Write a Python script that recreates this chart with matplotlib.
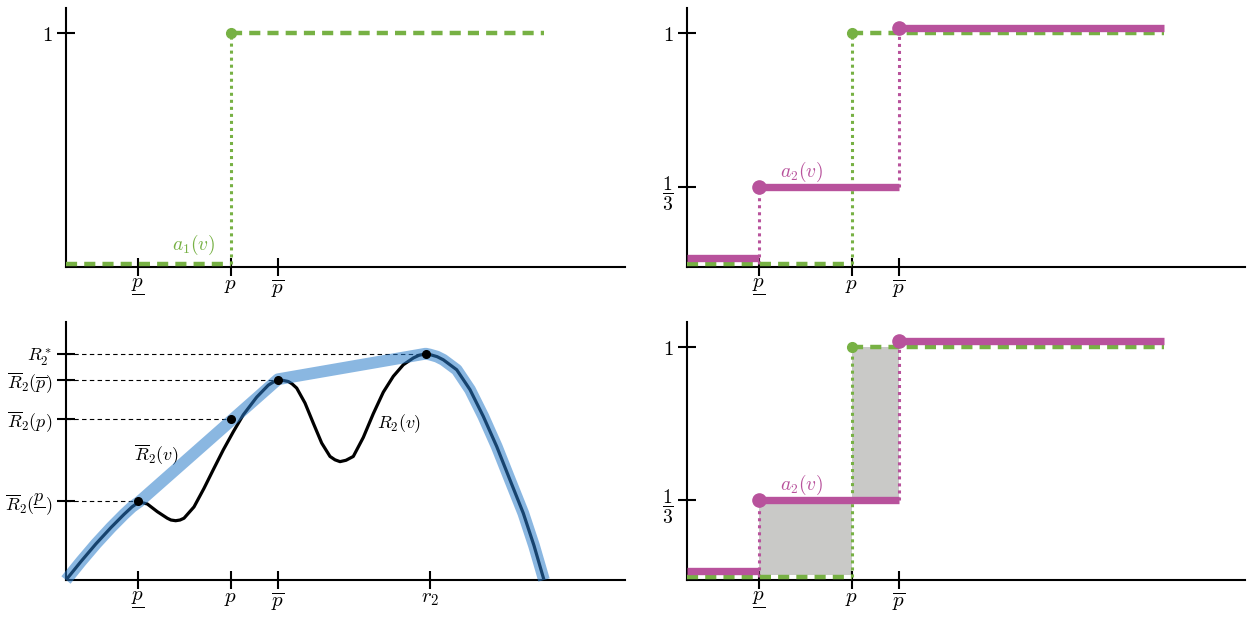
import numpy as np
import matplotlib
matplotlib.use("Agg")
import matplotlib.pyplot as plt
from matplotlib.transforms import ScaledTranslation

plt.rcParams['mathtext.fontset'] = 'cm'
plt.rcParams['axes.formatter.use_mathtext'] = True

green = "#77b144"
magenta = "#b8529c"
blue = "#2a7cca"
grey = "#c9c9c7"

# prices on the value axis
p_low = 0.72
p_mid = 1.65
p_high = 2.12
r2 = 3.64
v_end = 4.78

# a_1(v): green step, a_2(v): magenta step
a1_x = [0.0, p_mid, v_end]
a1_y = [0.0, 1.0, 1.0]
a2_x = [0.0, p_low, p_high, v_end]
a2_y = [0.025, 1 / 3, 1.025, 1.025]

# revenue curve R_2(v)
rev_v = [0.0, 0.15, 0.30, 0.45, 0.58, 0.66, 0.73, 0.813, 0.913, 1.013, 1.05, 1.097,
         1.14, 1.18, 1.28, 1.38, 1.47, 1.573, 1.673, 1.773, 1.907, 2.023, 2.07, 2.123,
         2.17, 2.223, 2.26, 2.307, 2.39, 2.473, 2.557, 2.64, 2.69, 2.74, 2.80, 2.873,
         2.973, 3.073, 3.173, 3.273, 3.373, 3.473, 3.53, 3.597, 3.64, 3.71, 3.773, 3.907,
         4.04, 4.173, 4.307, 4.44, 4.573, 4.68, 4.78]
rev_R = [0.0, 0.082, 0.160, 0.232, 0.290, 0.323, 0.345, 0.336, 0.302, 0.273, 0.265, 0.262,
         0.265, 0.273, 0.323, 0.405, 0.485, 0.575, 0.655, 0.730, 0.808, 0.861, 0.874, 0.882,
         0.882, 0.877, 0.867, 0.848, 0.782, 0.693, 0.605, 0.546, 0.531, 0.523, 0.529, 0.546,
         0.630, 0.735, 0.830, 0.900, 0.951, 0.981, 0.993, 0.999, 0.996, 0.987, 0.973, 0.929,
         0.841, 0.723, 0.590, 0.442, 0.295, 0.152, 0.0]

# ironed revenue curve, straight pieces between the touching points
iron_v = [0.0, 0.15, 0.30, 0.45, 0.58, 0.66, 0.73, p_high, 3.597, 3.64, 3.71, 3.773,
          3.907, 4.04, 4.173, 4.307, 4.44, 4.573, 4.68, 4.78]
iron_R = [0.0, 0.082, 0.160, 0.232, 0.290, 0.323, 0.345, 0.887, 1.0, 0.996, 0.987, 0.973,
          0.929, 0.841, 0.723, 0.590, 0.442, 0.295, 0.152, 0.0]

pts_v = [p_low, p_mid, p_high, 3.597]
pts_R = [0.35, 0.712, 0.885, 1.0]


# mathtext has no \underline: a fraction with an empty denominator draws the bar,
# the other tick labels get the same box (rule of width 0) so they line up
def stack(s, rule=0):
    return r'\genfrac{}{}{%s}{0}{%s}{\,}' % (rule, s)


R_labels = [r'$\overline{R}_2(' + stack('p', 0.8) + ')$', r'$\overline{R}_2(p)$',
            r'$\overline{R}_2(\overline{p})$', r'$R_2^*$']
price_labels = ['$' + stack('p', 0.8) + '$', '$' + stack('p') + '$',
                '$' + stack(r'\overline{p}') + '$']
r2_label = '$' + stack('r_2') + '$'

fig = plt.figure(figsize=(12.48, 6.18), dpi=100)
W, H = 1248.0, 618.0


def make_axes(x0, x1, y0, y1):
    ax = fig.add_axes([x0 / W, 1 - y1 / H, (x1 - x0) / W, (y1 - y0) / H])
    for s in ["top", "right"]:
        ax.spines[s].set_visible(False)
    for s in ["left", "bottom"]:
        ax.spines[s].set_linewidth(1.5)
    ax.tick_params(direction="inout", length=13, width=1.5, labelsize=15, pad=3)
    ax.tick_params(axis="x", pad=4)
    ax.set_xlim(0, 5.59)
    return ax


ax1 = make_axes(66, 625, 8, 267)
ax2 = make_axes(687, 1245, 8, 267)
ax3 = make_axes(66, 625, 322, 580)
ax4 = make_axes(687, 1245, 322, 580)


def draw_a1(ax):
    ax.plot(a1_x[:2], [a1_y[0]] * 2, color=green, lw=3.2, dashes=(2.5, 1.6), zorder=4)
    ax.plot([a1_x[1]] * 2, [a1_y[0], a1_y[1]], color=green, lw=2.2, ls=(0, (1, 1.3)), zorder=3)
    ax.plot(a1_x[1:], a1_y[1:], color=green, lw=3.2, dashes=(2.5, 1.6), zorder=4)
    ax.plot(a1_x[1], a1_y[1], "o", color=green, ms=7, zorder=6)


def draw_a2(ax):
    ax.plot(a2_x[:2], [a2_y[0]] * 2, color=magenta, lw=5.3, solid_capstyle="butt", zorder=4)
    ax.plot([a2_x[1]] * 2, [0, a2_y[1]], color=magenta, lw=2.2, ls=(0, (1, 1.3)), zorder=3)
    ax.plot(a2_x[1:3], [a2_y[1]] * 2, color=magenta, lw=5.3, solid_capstyle="butt", zorder=4)
    ax.plot([a2_x[2]] * 2, [a2_y[1], a2_y[2]], color=magenta, lw=2.2, ls=(0, (1, 1.3)), zorder=3)
    ax.plot(a2_x[2:], a2_y[2:], color=magenta, lw=5.3, solid_capstyle="butt", zorder=4)
    ax.plot(a2_x[1:3], a2_y[1:3], "o", color=magenta, ms=9.5, lw=0, zorder=6)


## top left: a_1 alone
draw_a1(ax1)
ax1.set_ylim(-0.015, 1.11)
ax1.set_yticks([1])
ax1.set_yticklabels([r'$1$'])
ax1.set_xticks([p_low, p_mid, p_high])
ax1.set_xticklabels(price_labels)
ax1.text(1.275, 0.08, r'$a_1(v)$', color=green, fontsize=14, ha="center", va="center")

## top right: a_1 and a_2
draw_a1(ax2)
draw_a2(ax2)
ax2.set_ylim(-0.015, 1.11)
ax2.set_yticks([1 / 3, 1])
ax2.set_yticklabels([r'$\dfrac{1}{3}$', r'$1$'])
ax2.set_xticks([p_low, p_mid, p_high])
ax2.set_xticklabels(price_labels)
ax2.text(1.145, 0.40, r'$a_2(v)$', color=magenta, fontsize=14, ha="center", va="center")

## bottom right: same with the shaded gap
draw_a1(ax4)
draw_a2(ax4)
ax4.fill_between([p_low, p_mid, p_high], [0.005, 1 / 3, 1 / 3], [1 / 3, 1.0, 1.0],
                 step="post", color=grey, lw=0, zorder=1)
ax4.set_ylim(-0.015, 1.11)
ax4.set_yticks([1 / 3, 1])
ax4.set_yticklabels([r'$\dfrac{1}{3}$', r'$1$'])
ax4.set_xticks([p_low, p_mid, p_high])
ax4.set_xticklabels(price_labels)
ax4.text(1.145, 0.40, r'$a_2(v)$', color=magenta, fontsize=14, ha="center", va="center")

for ax in [ax2, ax4]:
    ax.get_yticklabels()[0].set_fontsize(14)

## bottom left: revenue curve and its ironed version
ax3.set_ylim(0, 1.14)
ax3.plot(rev_v, rev_R, color="black", lw=2.3, zorder=3, solid_joinstyle="round")
ax3.plot(iron_v, iron_R, color=blue, alpha=0.55, lw=8.5, solid_capstyle="butt",
         solid_joinstyle="round", zorder=4, clip_on=False)
ax3.plot(pts_v, pts_R, "o", color="black", ms=5.5, zorder=6)
for v, R in zip(pts_v, pts_R):
    ax3.plot([0, v], [R, R], color="black", lw=0.8, dashes=(4, 3), zorder=2)
ax3.set_yticks(pts_R)
ax3.set_yticklabels(R_labels, fontsize=13)
ax3.set_xticks([p_low, p_mid, p_high, r2])
ax3.set_xticklabels(price_labels + [r2_label])
ax3.text(3.11, 0.69, r'$R_2(v)$', fontsize=13, ha="left", va="center")
ax3.text(0.68, 0.55, r'$\overline{R}_2(v)$', fontsize=13, ha="left", va="center")

# p-bar: push it down a little so its p sits level with the other p's
down = ScaledTranslation(0, -3.6 / 72, fig.dpi_scale_trans)
for ax in [ax1, ax2, ax3, ax4]:
    lab = ax.get_xticklabels()[2]
    lab.set_transform(lab.get_transform() + down)

plt.savefig("out.png", dpi=100)
